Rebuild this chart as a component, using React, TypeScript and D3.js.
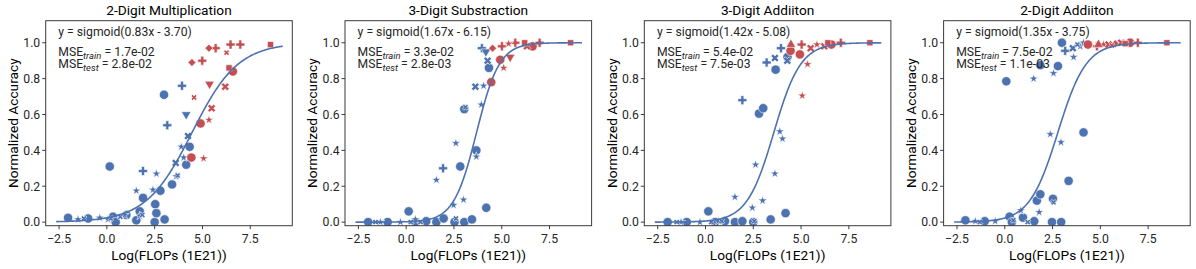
import React from 'react';
import * as d3 from 'd3';

const titles = ['2-Digit Multiplication', '3-Digit Substraction', '3-Digit Addiiton', '2-Digit Addiiton'];
const fitSlopes = [0.83, 1.67, 1.42, 1.35];
const fitIntercepts = [-3.7, -6.15, -5.08, -3.75];
const mseTrain = ['1.7e-02', '3.3e-02', '5.4e-02', '7.5e-02'];
const mseTest = ['2.8e-02', '2.8e-03', '7.5e-03', '1.1e-03'];
const xTicks = [-2.5, 0, 2.5, 5, 7.5];
const yTicks = [0, 0.2, 0.4, 0.6, 0.8, 1.0];
const curveRange = [-2.65, 9.2];

type Pt = [number, number, string];

// 2-Digit Multiplication
const mulTrain: Pt[] = [
  [-2.03, 0.024, 'o'], [-0.98, 0.02, 'o'], [0.15, 0.31, 'o'], [0.32, 0.03, 'o'], [0.46, 0.0, 'o'],
  [1.02, 0.04, 'o'], [1.54, 0.01, 'o'], [1.72, 0.06, 'o'], [1.89, 0.135, 'o'], [2.5, 0.0, 'o'],
  [2.53, 0.1, 'o'], [2.59, 0.05, 'o'], [2.8, 0.175, 'o'], [2.99, 0.71, 'o'], [3.02, 0.015, 'o'],
  [3.41, 0.21, 'o'], [4.15, 0.32, 'o'], [4.33, 0.42, 'o'],
  [1.89, 0.285, 'P'], [3.16, 0.54, 'P'], [3.93, 0.76, 'P'],
  [4.15, 0.6, 'v'], [4.24, 0.48, 'X'], [3.6, 0.33, 'X'],
  [1.54, 0.175, '*'], [2.59, 0.27, '*'], [2.41, 0.18, '*'], [3.89, 0.42, '*'], [4.02, 0.36, '*'],
  [3.63, 0.255, '*'], [-1.51, 0.015, '*'], [-0.37, 0.024, '*'], [0.06, 0.015, '*'], [0.93, 0.04, '*'],
  [1.72, 0.035, '*'], [-1.2, 0.02, 'x'], [0.2, 0.02, 'x'], [0.7, 0.03, 'x'], [1.85, 0.04, 'x'], [3.7, 0.26, 'x'],
];
const mulTest: Pt[] = [
  [4.42, 0.36, 'o'], [4.9, 0.55, 'o'], [6.59, 0.84, 'o'],
  [4.99, 0.9, 'P'], [5.69, 0.97, 'P'], [6.47, 0.99, 'P'], [6.98, 0.99, 'P'],
  [4.45, 0.89, 'D'], [5.34, 0.97, 'D'], [8.56, 0.99, 's'], [6.39, 0.86, 's'],
  [5.48, 0.635, 'X'], [6.19, 0.755, 'X'], [4.56, 0.695, 'x'], [6.26, 0.945, 'x'],
  [5.37, 0.77, 'v'], [5.34, 0.57, '*'], [5.06, 0.355, '*'],
];

// 3-Digit Substraction
const subTrain: Pt[] = [
  [-1.99, 0.0, 'o'], [-0.97, 0.0, 'o'], [0.13, 0.06, 'o'], [0.48, 0.0, 'o'], [1.05, 0.005, 'o'],
  [1.58, 0.0, 'o'], [1.96, 0.02, 'o'], [2.53, 0.0, 'o'], [2.83, 0.31, 'o'], [3.04, 0.63, 'o'],
  [3.04, 0.0, 'o'], [3.44, 0.015, 'o'], [3.67, 0.4, 'o'], [4.19, 0.08, 'o'], [4.33, 0.86, 'o'],
  [1.93, 0.3, 'P'], [3.96, 0.97, 'P'], [3.62, 0.755, 'X'], [4.26, 0.9, 'X'], [4.17, 0.95, 'v'],
  [1.58, 0.235, '*'], [2.6, 0.44, '*'], [2.48, 0.095, '*'], [3.0, 0.125, '*'], [3.67, 0.365, '*'],
  [3.93, 0.655, '*'], [4.05, 0.76, '*'], [-0.3, 0.0, '*'], [-1.35, 0.0, '*'], [0.48, 0.015, '*'],
  [0.25, 0.0, 'x'], [0.75, 0.0, 'x'], [2.6, 0.02, 'x'], [3.1, 0.64, 'x'], [-1.6, 0.0, 'x'],
];
const subTest: Pt[] = [
  [4.45, 0.78, 'o'], [4.92, 0.905, 'o'], [6.61, 0.98, 'o'],
  [5.01, 0.98, 'P'], [5.71, 1.0, 'P'], [6.98, 1.0, 'P'], [4.52, 0.97, 'D'], [8.6, 1.0, 's'],
  [6.32, 0.98, 'X'], [5.44, 0.92, 'v'], [5.1, 0.86, '*'], [5.36, 0.995, '*'], [6.2, 1.0, 's'],
];

// 3-Digit Addition
const addThreeTrain: Pt[] = [
  [-1.98, 0.0, 'o'], [-0.98, 0.0, 'o'], [0.15, 0.06, 'o'], [0.5, 0.0, 'o'], [1.02, 0.005, 'o'],
  [1.54, 0.0, 'o'], [1.93, 0.005, 'o'], [2.5, 0.0, 'o'], [2.8, 0.605, 'o'], [3.02, 0.635, 'o'],
  [3.41, 0.015, 'o'], [3.67, 0.85, 'o'], [4.19, 0.05, 'o'], [4.29, 0.92, 'o'],
  [1.93, 0.68, 'P'], [3.2, 0.89, 'P'], [3.95, 0.97, 'P'], [3.63, 0.915, 'X'], [4.28, 0.9, 'X'],
  [1.54, 0.14, '*'], [2.62, 0.32, '*'], [2.45, 0.08, '*'], [2.99, 0.12, '*'], [3.63, 0.27, '*'],
  [3.89, 0.505, '*'], [4.03, 0.465, '*'], [-0.29, 0.0, '*'], [-1.28, 0.0, '*'], [0.67, 0.005, '*'],
  [0.3, 0.0, 'x'], [0.85, 0.005, 'x'], [-1.5, 0.0, 'x'], [2.55, 0.005, 'x'],
];
const addThreeTest: Pt[] = [
  [4.45, 0.955, 'o'], [4.94, 0.935, 'o'], [6.59, 0.99, 'o'],
  [5.03, 0.99, 'P'], [7.08, 1.0, 'P'], [4.47, 0.99, '^'], [5.5, 0.97, 'X'], [6.21, 0.98, 'X'],
  [8.6, 1.0, 's'], [6.4, 1.0, 's'], [5.34, 0.88, '*'], [5.06, 0.705, '*'], [5.83, 0.99, '*'],
];

// 2-Digit Addition
const addTwoTrain: Pt[] = [
  [-2.06, 0.01, 'o'], [-1.05, 0.005, 'o'], [0.08, 0.785, 'o'], [0.25, 0.03, 'o'], [0.37, 0.0, 'o'],
  [0.95, 0.025, 'o'], [1.54, 0.005, 'o'], [1.68, 0.12, 'o'], [1.86, 0.155, 'o'], [1.86, 0.875, 'o'],
  [2.47, 0.0, 'o'], [2.52, 0.13, 'o'], [2.78, 0.87, 'o'], [2.95, 0.0, 'o'], [2.99, 1.0, 'o'],
  [3.34, 0.23, 'o'], [4.12, 0.5, 'o'],
  [3.16, 0.955, 'P'], [3.56, 0.97, 'X'],
  [1.51, 0.8, '*'], [2.55, 0.83, '*'], [2.38, 0.49, '*'], [2.94, 0.445, '*'], [3.6, 0.92, '*'],
  [0.84, 0.065, '*'], [1.8, 0.055, '*'], [-0.5, 0.005, '*'], [-1.54, 0.005, '*'], [3.95, 0.98, '*'],
  [4.12, 1.0, '*'], [3.8, 0.99, 'x'], [0.45, 0.01, 'x'], [1.2, 0.0, 'x'], [2.55, 0.11, 'x'], [-1.3, 0.0, 'x'],
];
const addTwoTest: Pt[] = [
  [4.35, 0.99, 'o'], [6.56, 1.0, 'o'], [4.82, 0.98, 'P'], [6.96, 1.0, 'P'], [5.17, 0.99, '*'],
  [5.43, 0.99, 'X'], [5.78, 0.995, 'D'], [6.09, 1.0, 'X'], [8.48, 1.0, 's'], [4.9, 0.99, '^'],
  [5.6, 0.985, 'x'], [6.3, 0.995, 's'],
];

const trainSets = [mulTrain, subTrain, addThreeTrain, addTwoTrain];
const testSets = [mulTest, subTest, addThreeTest, addTwoTest];

const BLUE = '#4C72B0';
const RED = '#C44E52';
const INK = '#262626';
const FONT = 'Roboto, "Noto Sans", "DejaVu Sans", sans-serif';

const PANEL_LEFT = 45.7;
const PANEL_STEP = 299.3;
const PLOT_W = 246.6;
const PLOT_TOP = 20.7;
const PLOT_H = 205;

function symbolPath(shape: string): { d: string; rot: number } {
  const gen = d3.symbol();
  switch (shape) {
    case 'o': return { d: gen.type(d3.symbolCircle).size(68)() as string, rot: 0 };
    case 'P': return { d: gen.type(d3.symbolCross).size(45)() as string, rot: 0 };
    case 'X': return { d: gen.type(d3.symbolCross).size(40)() as string, rot: 45 };
    case 'x': return { d: gen.type(d3.symbolCross).size(22)() as string, rot: 45 };
    case '*': return { d: gen.type(d3.symbolStar).size(26)() as string, rot: 0 };
    case 'v': return { d: gen.type(d3.symbolTriangle).size(40)() as string, rot: 180 };
    case '^': return { d: gen.type(d3.symbolTriangle).size(40)() as string, rot: 0 };
    case 'D': return { d: gen.type(d3.symbolSquare).size(32)() as string, rot: 45 };
    case 's': return { d: gen.type(d3.symbolSquare).size(38)() as string, rot: 0 };
    default: return { d: gen.type(d3.symbolCircle).size(40)() as string, rot: 0 };
  }
}

const fmtTick = (v: number) => (v < 0 ? '\u2212' + Math.abs(v).toFixed(1) : v.toFixed(1));

function Panel({ i }: { i: number }) {
  const left = PANEL_LEFT + i * PANEL_STEP;
  const x = d3.scaleLinear().domain([-3.2, 9.7]).range([0, PLOT_W]);
  const y = d3.scaleLinear().domain([-0.02, 1.123]).range([PLOT_H, 0]);
  const a = fitSlopes[i];
  const b = fitIntercepts[i];
  const xs = d3.range(curveRange[0], curveRange[1] + 0.001, 0.05);
  const line = d3.line<number>()
    .x((v) => x(v))
    .y((v) => y(1 / (1 + Math.exp(-(a * v + b)))));
  const bStr = (b < 0 ? ' - ' : ' + ') + Math.abs(b).toFixed(2);
  const renderPts = (pts: Pt[], color: string) =>
    pts.map((p, k) => {
      const s = symbolPath(p[2]);
      return (
        <path
          key={k}
          d={s.d}
          transform={`translate(${x(p[0])},${y(p[1])}) rotate(${s.rot})`}
          fill={color}
          stroke="#ffffff"
          strokeWidth={0.6}
        />
      );
    });
  return (
    <g transform={`translate(${left},${PLOT_TOP})`}>
      <text x={PLOT_W / 2} y={-6} textAnchor="middle" fontSize={13.7} fill="#000" fontFamily={FONT}>
        {titles[i]}
      </text>
      <g clipPath={`url(#clip${i})`}>
        {renderPts(trainSets[i], BLUE)}
        {renderPts(testSets[i], RED)}
        <path d={line(xs) as string} fill="none" stroke={BLUE} strokeWidth={1.6} />
      </g>
      <rect x={0} y={0} width={PLOT_W} height={PLOT_H} fill="none" stroke="#3b3b3b" strokeWidth={1} />
      {xTicks.map((t) => (
        <g key={t} transform={`translate(${x(t)},${PLOT_H})`}>
          <line y1={0} y2={3.5} stroke={INK} strokeWidth={0.9} />
          <text y={17.5} textAnchor="middle" fontSize={12.2} fill={INK} fontFamily={FONT}>
            {fmtTick(t)}
          </text>
        </g>
      ))}
      {yTicks.map((t) => (
        <g key={t} transform={`translate(0,${y(t)})`}>
          <line x1={0} x2={-3.5} stroke={INK} strokeWidth={0.9} />
          <text x={-5.5} dy="0.35em" textAnchor="end" fontSize={12.2} fill={INK} fontFamily={FONT}>
            {fmtTick(t)}
          </text>
        </g>
      ))}
      <text x={PLOT_W / 2} y={PLOT_H + 34.5} textAnchor="middle" fontSize={13.7} fill="#000" fontFamily={FONT}>
        Log(FLOPs (1E21))
      </text>
      <text
        transform={`translate(${-32.4},${PLOT_H / 2}) rotate(-90)`}
        dy="0.35em"
        textAnchor="middle"
        fontSize={13.7}
        fill="#000"
        fontFamily={FONT}
      >
        Normalized Accuracy
      </text>
      <g fontFamily={FONT} fontSize={12.2} fill={INK}>
        <text x={12.6} y={15.3}>{`y = sigmoid(${a.toFixed(2)}x${bStr})`}</text>
        <text x={12.6} y={35.3}>
          MSE
          <tspan fontStyle="italic" fontSize={9.5} dy={3}>train</tspan>
          <tspan dy={-3}>{` = ${mseTrain[i]}`}</tspan>
        </text>
        <text x={12.6} y={47}>
          MSE
          <tspan fontStyle="italic" fontSize={9.5} dy={3}>test</tspan>
          <tspan dy={-3}>{` = ${mseTest[i]}`}</tspan>
        </text>
      </g>
      <defs>
        <clipPath id={`clip${i}`}>
          <rect x={0} y={0} width={PLOT_W} height={PLOT_H} />
        </clipPath>
      </defs>
    </g>
  );
}

export default function App() {
  return (
    <svg
      width={1196}
      height={269}
      style={{ position: 'absolute', left: 0, top: 0, background: '#fff' }}
      xmlns="http://www.w3.org/2000/svg"
    >
      <rect width={1196} height={269} fill="#fff" />
      {[0, 1, 2, 3].map((i) => (
        <Panel key={i} i={i} />
      ))}
    </svg>
  );
}
